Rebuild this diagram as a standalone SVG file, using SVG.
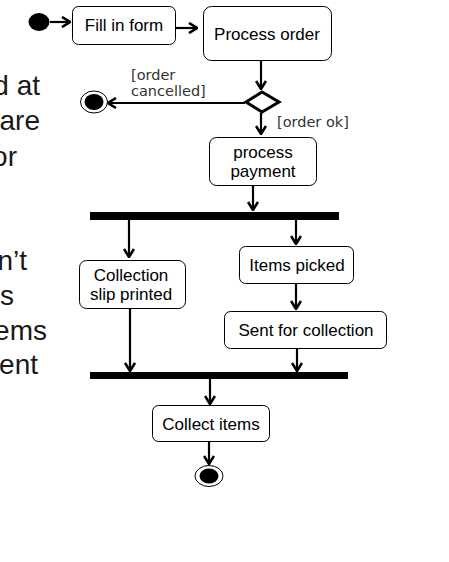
<svg xmlns="http://www.w3.org/2000/svg" width="449" height="562" viewBox="0 0 449 562">
<style>
.box{fill:#fff;stroke:#000;stroke-width:1}
.t{font-family:"Liberation Sans",Arial,sans-serif;font-size:17px;fill:#000;text-anchor:middle}
.g{font-family:"DejaVu Sans",Verdana,sans-serif;font-size:14.5px;fill:#333}
.bg{font-family:"Liberation Sans",Arial,sans-serif;font-size:28px;fill:#1a1a1a;text-anchor:end}
.c{fill:none;stroke:#000;stroke-width:2.2}
.bar{fill:#000}
</style>
<defs>
<marker id="a" viewBox="0 0 10 12" refX="9" refY="6" markerWidth="10" markerHeight="12" markerUnits="userSpaceOnUse" orient="auto">
<path d="M1,1 L9,6 L1,11" fill="none" stroke="#000" stroke-width="2.6"/>
</marker>
</defs>
<g id="background-text">
<text class="bg" x="40" y="95">d at</text>
<text class="bg" x="40" y="130">are</text>
<text class="bg" x="17" y="166">or</text>
<text class="bg" x="27" y="270">n’t</text>
<text class="bg" x="14" y="305">s</text>
<text class="bg" x="47" y="340">ems</text>
<text class="bg" x="38" y="374">ent</text>
</g>
<g id="connectors">
<line class="c" x1="50" y1="22" x2="70" y2="22" marker-end="url(#a)"/>
<line class="c" x1="176" y1="28" x2="197" y2="28" marker-end="url(#a)"/>
<line class="c" x1="261" y1="60" x2="261" y2="89" marker-end="url(#a)"/>
<line class="c" x1="245" y1="103" x2="108" y2="103" marker-end="url(#a)"/>
<line class="c" x1="261" y1="113" x2="261" y2="134" marker-end="url(#a)"/>
<line class="c" x1="253" y1="178" x2="253" y2="210" marker-end="url(#a)"/>
<line class="c" x1="129" y1="220" x2="129" y2="257" marker-end="url(#a)"/>
<line class="c" x1="296" y1="220" x2="296" y2="244" marker-end="url(#a)"/>
<line class="c" x1="296" y1="284" x2="296" y2="309" marker-end="url(#a)"/>
<line class="c" x1="297" y1="349" x2="297" y2="371" marker-end="url(#a)"/>
<line class="c" x1="130" y1="309" x2="130" y2="371" marker-end="url(#a)"/>
<line class="c" x1="210" y1="379" x2="210" y2="404" marker-end="url(#a)"/>
<line class="c" x1="209" y1="442" x2="209" y2="464" marker-end="url(#a)"/>
<text class="g" x="131" y="80">[order</text>
<text class="g" x="131" y="96">cancelled]</text>
<text class="g" x="277" y="127">[order ok]</text>
</g>
<g id="start"><ellipse cx="39" cy="22" rx="10.5" ry="9" fill="#000"/></g>
<g id="fill-in-form"><rect class="box" x="72.5" y="6.5" width="103" height="38" rx="6"/><text class="t" x="124" y="31">Fill in form</text></g>
<g id="process-order"><rect class="box" x="203.5" y="6.5" width="128" height="54" rx="8"/><text class="t" x="267" y="40">Process order</text></g>
<g id="decision"><polygon points="246,102 262,92 279,102 262,112" fill="#fff" stroke="#000" stroke-width="3"/></g>
<g id="end-cancel"><ellipse cx="94" cy="102" rx="13.5" ry="11" fill="#fff" stroke="#000" stroke-width="1"/><ellipse cx="94" cy="102" rx="9.5" ry="8" fill="#000"/></g>
<g id="process-payment"><rect class="box" x="209.5" y="137.5" width="107" height="48" rx="7"/><text class="t" x="263" y="158">process</text><text class="t" x="263" y="177">payment</text></g>
<g id="fork"><rect class="bar" x="90" y="212" width="249" height="8"/></g>
<g id="collection-slip"><rect class="box" x="79.5" y="260.5" width="106" height="48" rx="7"/><text class="t" x="131" y="281">Collection</text><text class="t" x="131" y="300">slip printed</text></g>
<g id="items-picked"><rect class="box" x="239.5" y="246.5" width="114" height="37" rx="6"/><text class="t" x="297" y="271">Items picked</text></g>
<g id="sent-for-collection"><rect class="box" x="224.5" y="311.5" width="162" height="37" rx="6"/><text class="t" x="306" y="336">Sent for collection</text></g>
<g id="join"><rect class="bar" x="90" y="372" width="258" height="7"/></g>
<g id="collect-items"><rect class="box" x="152.5" y="405.5" width="117" height="36" rx="6"/><text class="t" x="211" y="430">Collect items</text></g>
<g id="end"><ellipse cx="209" cy="476" rx="14" ry="10.5" fill="#fff" stroke="#000" stroke-width="1"/><ellipse cx="209" cy="476" rx="9.5" ry="7.5" fill="#000"/></g>
</svg>
